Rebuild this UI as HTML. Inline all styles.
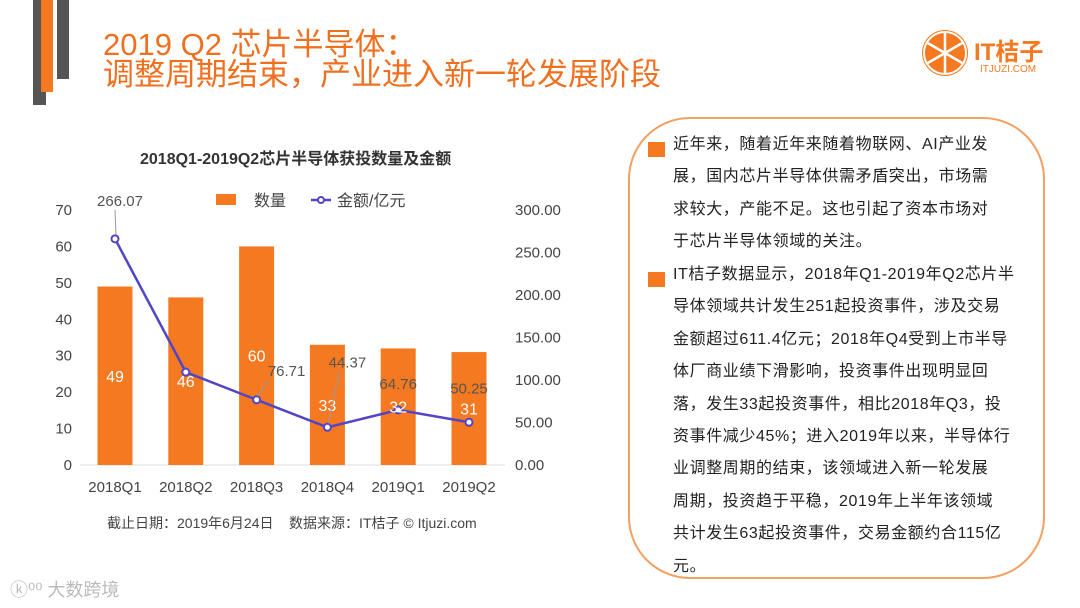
<!DOCTYPE html>
<html><head><meta charset="utf-8">
<style>
html,body{margin:0;padding:0;background:#fff;}
body{width:1080px;height:608px;position:relative;overflow:hidden;font-family:"Liberation Sans","Noto Sans CJK SC",sans-serif;}
.abs{position:absolute;}
.title{left:103px;color:#f07020;font-size:31px;white-space:nowrap;line-height:32px;font-family:"Liberation Sans","Noto Sans CJK SC",sans-serif;}
.box{left:628px;top:117px;width:417px;height:462px;border:2px solid #f4a060;border-radius:62px;box-sizing:border-box;}
.txt{left:673px;font-size:16px;color:#222;line-height:32.4px;white-space:nowrap;letter-spacing:0.6px;}
.bul{width:17px;height:15px;background:#f47920;}
</style></head><body>
<div class="abs" style="left:33px;top:0;width:13px;height:105px;background:#555;"></div>
<div class="abs" style="left:41px;top:0;width:12px;height:92px;background:#f47920;"></div>
<div class="abs" style="left:57px;top:0;width:12px;height:79px;background:#555;"></div>
<div class="abs title" style="top:29px;">2019 Q2 芯片半导体：</div>
<div class="abs title" style="top:59px;">调整周期结束，产业进入新一轮发展阶段</div>

<div class="abs" style="left:920px;top:28px;width:150px;height:50px;">
<svg width="50" height="50" style="position:absolute;left:0;top:0">
<circle cx="25" cy="25" r="23" fill="#f47920"/>
<g stroke="#fff" stroke-width="2.5"><line x1="25" y1="4" x2="25" y2="46"/><line x1="6" y1="14" x2="44" y2="36"/><line x1="6" y1="36" x2="44" y2="14"/></g>
<circle cx="25" cy="25" r="21" fill="none" stroke="#fff" stroke-width="2"/></svg>
<div class="abs" style="left:54px;top:4px;font-size:24px;color:#f47920;font-weight:bold;white-space:nowrap;">IT桔子</div>
<div class="abs" style="left:60px;top:36px;font-size:10px;color:#f47920;white-space:nowrap;">ITJUZI.COM</div>
</div>

<div class="abs" style="left:140px;top:145px;font-size:16px;font-weight:bold;color:#333;white-space:nowrap;">2018Q1-2019Q2芯片半导体获投数量及金额</div>

<svg id="chart" class="abs" style="left:0;top:0" width="620" height="608"></svg>

<div class="abs" style="left:107px;top:513px;font-size:14px;color:#444;white-space:nowrap;">截止日期：2019年6月24日&nbsp;&nbsp;&nbsp;&nbsp;数据来源：IT桔子 © Itjuzi.com</div>
<div class="abs" style="left:10px;top:576px;font-size:18px;color:#bbb;white-space:nowrap;">ⓚ⁰⁰ 大数跨境</div>

<div class="abs box"></div>
<div class="abs bul" style="left:648px;top:142px;"></div>
<div class="abs bul" style="left:648px;top:272px;"></div>
<div class="abs txt" style="top:129px;">近年来，随着近年来随着物联网、AI产业发<br>展，国内芯片半导体供需矛盾突出，市场需<br>求较大，产能不足。这也引起了资本市场对<br>于芯片半导体领域的关注。</div>
<div class="abs txt" style="top:259px;">IT桔子数据显示，2018年Q1-2019年Q2芯片半<br>导体领域共计发生251起投资事件，涉及交易<br>金额超过611.4亿元；2018年Q4受到上市半导<br>体厂商业绩下滑影响，投资事件出现明显回<br>落，发生33起投资事件，相比2018年Q3，投<br>资事件减少45%；进入2019年以来，半导体行<br>业调整周期的结束，该领域进入新一轮发展<br>周期，投资趋于平稳，2019年上半年该领域<br>共计发生63起投资事件，交易金额约合115亿<br>元。</div>

<script>
const categories=["2018Q1","2018Q2","2018Q3","2018Q4","2019Q1","2019Q2"];
const counts=[49,46,60,33,32,31];
const amounts=[266.07,109.24,76.71,44.37,64.76,50.25];
const amountLabels=["266.07","","76.71","44.37","64.76","50.25"];
const leftTicks=[0,10,20,30,40,50,60,70];
const rightTicks=["0.00","50.00","100.00","150.00","200.00","250.00","300.00"];
const NS="http://www.w3.org/2000/svg";
const svg=document.getElementById('chart');
const y0=465, yTop=210;
const yL=v=>y0-(v/70)*(y0-yTop);
const yR=v=>y0-(v/300)*(y0-yTop);
const xC=i=>115+i*70.8;
function mk(t,a){const e=document.createElementNS(NS,t);for(const k in a)e.setAttribute(k,a[k]);svg.appendChild(e);return e;}
let base=mk('line',{x1:80,x2:505,y1:y0,y2:y0,stroke:'#ddd','stroke-width':1});


leftTicks.forEach(v=>{const t=mk('text',{x:72,y:yL(v)+5,'text-anchor':'end','font-size':15,fill:'#444'});t.textContent=v;

});
rightTicks.forEach(s=>{const t=mk('text',{x:515,y:yR(parseFloat(s))+5,'font-size':15,fill:'#444'});t.textContent=s;

});
categories.forEach((c,i)=>{const t=mk('text',{x:xC(i),y:492,'text-anchor':'middle','font-size':15,fill:'#444'});t.textContent=c;

});
counts.forEach((v,i)=>{const r=mk('rect',{x:xC(i)-17.5,y:yL(v),width:35,height:y0-yL(v),fill:'#f47920'});

});
let pts=amounts.map((v,i)=>xC(i)+','+yR(v)).join(' ');
let pl=mk('polyline',{points:pts,fill:'none',stroke:'#5146c8','stroke-width':2.5});


amounts.forEach((v,i)=>{const c=mk('circle',{cx:xC(i),cy:yR(v),r:3.5,fill:'#fff',stroke:'#5146c8','stroke-width':2});

});
counts.forEach((v,i)=>{const t=mk('text',{x:xC(i),y:(yL(v)+y0)/2+6,'text-anchor':'middle','font-size':16,fill:'#fff'});t.textContent=v;

});
const off=[[5,-33],[0,0],[30,-24],[20,-60],[0,-21],[0,-29]];
amounts.forEach((v,i)=>{if(!amountLabels[i])return;const x=xC(i)+off[i][0],y=yR(v)+off[i][1];
if(i==0||i==2||i==3){const l=mk('line',{x1:xC(i)+1,y1:yR(v)-4,x2:x-(i==0?5:i==2?18:8),y2:y+4,stroke:'#999','stroke-width':1});

}
const t=mk('text',{x:x,y:y,'text-anchor':'middle','font-size':15,fill:'#555'});t.textContent=amountLabels[i];

});
let lr=mk('rect',{x:216,y:194,width:20,height:11,fill:'#f47920'});


let lt=mk('text',{x:254,y:206,'font-size':16,fill:'#444'});lt.textContent='数量';


let ll=mk('line',{x1:311,x2:331,y1:200,y2:200,stroke:'#5146c8','stroke-width':2.5});


let lc=mk('circle',{cx:321,cy:200,r:3,fill:'#fff',stroke:'#5146c8','stroke-width':2});


let lt2=mk('text',{x:337,y:206,'font-size':16,fill:'#444'});lt2.textContent='金额/亿元';


</script>
</body></html>
